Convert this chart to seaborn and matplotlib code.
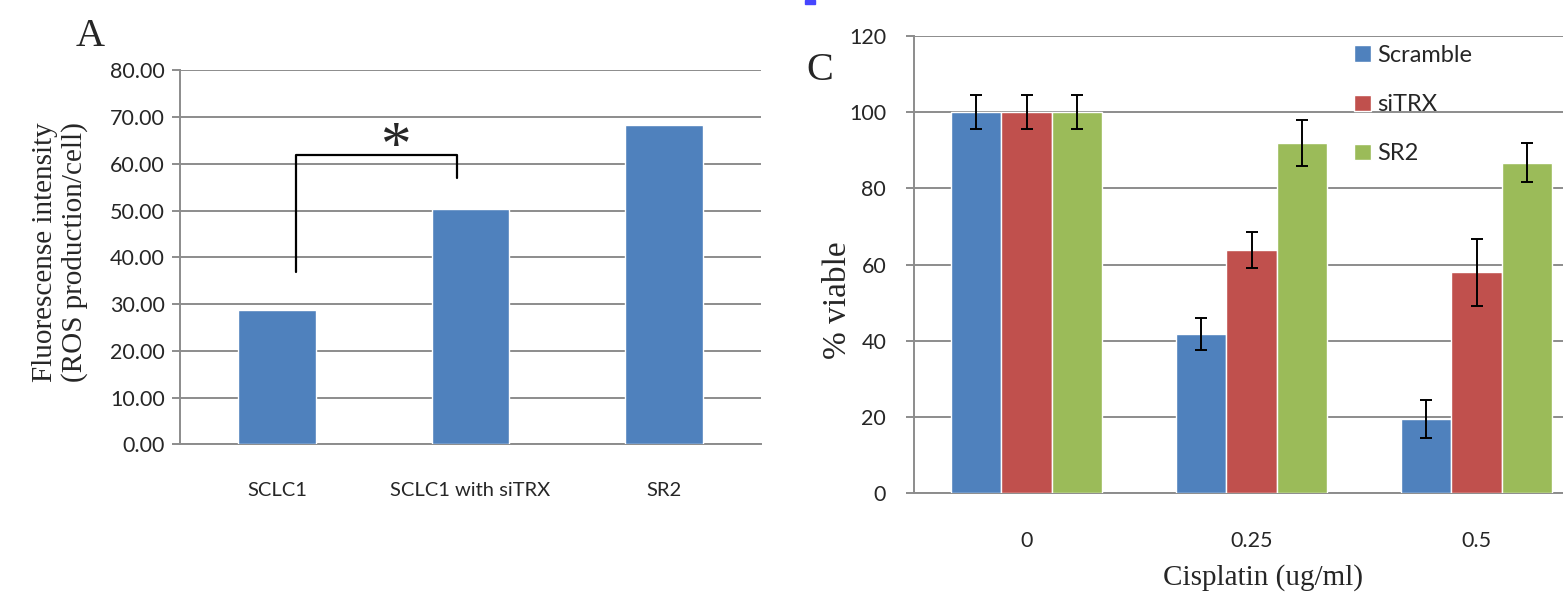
import numpy as np
import pandas as pd
import matplotlib
matplotlib.use("Agg")
import matplotlib.pyplot as plt
from matplotlib.patches import Rectangle
import seaborn as sns

# panel A - ROS production
cell_lines = ["SCLC1", "SCLC1 with siTRX", "SR2"]
ros_values = [28.7, 50.3, 68.3]

# significance bracket (SCLC1 vs SCLC1 with siTRX)
bracket_x = [0.10, 0.93]
bracket_top = 61.9
bracket_ends = [36.8, 56.9]

# panel C - viability after cisplatin
doses = ["0", "0.25", "0.5"]
groups = ["Scramble", "siTRX", "SR2"]
scramble = [100, 41.8, 19.4]
sitrx = [100, 63.8, 58.0]
sr2 = [100, 92.0, 86.8]
scramble_err = [4.5, 4.2, 5.0]
sitrx_err = [4.5, 4.8, 8.8]
sr2_err = [4.5, 6.0, 5.2]

sns.set_style("white")
plt.rcParams["font.family"] = ["Lato", "DejaVu Sans"]
serif = ["Liberation Serif", "DejaVu Serif"]

blue, red, green = "#4F81BD", "#C0504D", "#9BBB59"
grey = "#8C8C8C"

W, H = 1563, 596
fig = plt.figure(figsize=(W / 100, H / 100), dpi=100)
axA = fig.add_axes([180 / W, 1 - 444.3 / H, 581 / W, 374 / H])
axC = fig.add_axes([914 / W, 1 - 493.3 / H, 675 / W, 457.3 / H])

# ---- panel A
dfA = pd.DataFrame({"line": cell_lines, "ros": ros_values})
sns.barplot(data=dfA, x="line", y="ros", color=blue, width=0.4,
            saturation=1, errorbar=None, ax=axA, zorder=3)
axA.set_ylim(0, 80)
axA.set_yticks(np.arange(0, 81, 10))
axA.set_yticklabels([f"{v:.2f}" for v in np.arange(0, 81, 10)])

# bracket + star
axA.plot([bracket_x[0], bracket_x[0], bracket_x[1], bracket_x[1]],
         [bracket_ends[0], bracket_top, bracket_top, bracket_ends[1]],
         color="black", lw=1.6, zorder=4)
axA.text(np.mean(bracket_x) + 0.095, bracket_top - 4.6, "*", family=serif,
         fontsize=44, ha="center", va="bottom")

# ---- panel C
dfC = pd.DataFrame({
    "dose": doses * 3,
    "group": np.repeat(groups, 3),
    "viable": scramble + sitrx + sr2,
})
sns.barplot(data=dfC, x="dose", y="viable", hue="group",
            palette=[blue, red, green], width=0.667, saturation=1,
            errorbar=None, ax=axC, zorder=3)
for cont, err in zip(axC.containers, [scramble_err, sitrx_err, sr2_err]):
    xs = [b.get_x() + b.get_width() / 2 for b in cont]
    ys = [b.get_height() for b in cont]
    axC.errorbar(xs, ys, yerr=err, fmt="none", ecolor="black",
                 elinewidth=1.4, capsize=4.5, capthick=1.4, zorder=5)
axC.set_ylim(0, 120)
axC.set_yticks(np.arange(0, 121, 20))

leg = axC.legend(loc="upper left", bbox_to_anchor=(1354 / W, 1 - 45 / H),
                 bbox_transform=fig.transFigure, frameon=False, fontsize=17,
                 handlelength=0.7, handleheight=0.7, handletextpad=0.28,
                 labelspacing=1.19, borderpad=0, borderaxespad=0)

# ---- shared styling, Excel look
for ax, ypad in [(axA, 5), (axC, 14)]:
    ax.set_xlim(-0.5, 2.5)
    ax.set_xlabel("")
    ax.set_ylabel("")
    ax.yaxis.grid(True, color=grey, lw=1.4, zorder=0)
    ax.set_axisbelow(True)
    sns.despine(ax=ax)
    for s in ["left", "bottom"]:
        ax.spines[s].set_color(grey)
        ax.spines[s].set_linewidth(1.4)
    ax.set_xticks([-0.5, 0.5, 1.5, 2.5], minor=True)
    ax.tick_params(axis="x", which="major", length=0, pad=27, labelsize=15.5)
    ax.tick_params(axis="x", which="minor", length=6, width=1.4,
                   color=grey, direction="out")
    ax.tick_params(axis="y", length=6, width=1.4, color=grey,
                   direction="out", pad=ypad, labelsize=15.5, left=True)

axA.tick_params(axis="x", which="major", labelsize=14.5)

# titles / labels
fig.text(90 / W, 1 - 36 / H, "A", family=serif, fontsize=29,
         ha="center", va="center")
fig.text(820 / W, 1 - 70 / H, "C", family=serif, fontsize=29,
         ha="center", va="center")
fig.text(60 / W, 1 - 252 / H,
         "Fluorescense intensity\n(ROS production/cell)", family=serif,
         fontsize=21, rotation=90, ha="center", va="center",
         multialignment="center", linespacing=1.15)
fig.text(838 / W, 1 - 300 / H, "% viable", family=serif, fontsize=24,
         rotation=90, ha="center", va="center")
fig.text(1263 / W, 1 - 578 / H, "Cisplatin (ug/ml)", family=serif,
         fontsize=21, ha="center", va="center")

# small blue link mark at the top edge
fig.patches.append(Rectangle((805 / W, 1 - 4 / H), 10 / W, 4 / H,
                             transform=fig.transFigure, color="#4646FF"))

fig.savefig("out.png", dpi=100)
